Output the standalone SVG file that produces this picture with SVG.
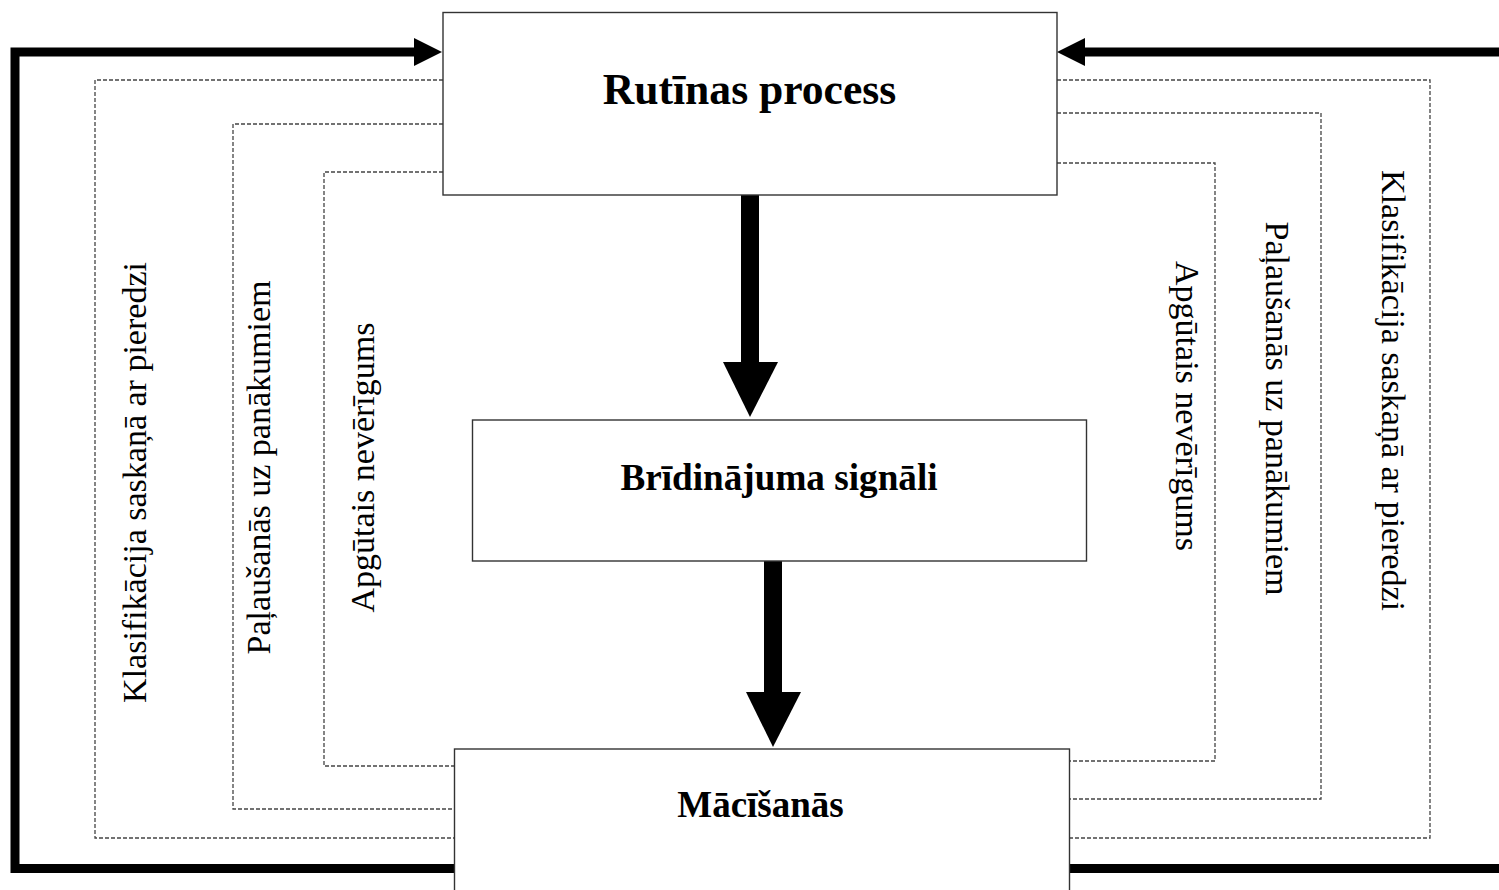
<svg xmlns="http://www.w3.org/2000/svg" width="1499" height="890" viewBox="0 0 1499 890">
  <style>
    .box { fill: #ffffff; stroke: #333333; stroke-width: 1.4; }
    .dash { fill: none; stroke: #444444; stroke-width: 1.3; stroke-dasharray: 4 2; }
    .thick { fill: none; stroke: #000000; stroke-width: 9; stroke-linejoin: miter; }
    .head { fill: #000000; }
    .title { font-family: "Liberation Serif", "Times New Roman", serif; font-weight: bold; text-anchor: middle; fill: #000000; }
    .side { font-family: "Liberation Serif", "Times New Roman", serif; font-size: 34px; text-anchor: middle; fill: #000000; }
  </style>
  <rect width="1499" height="890" fill="#ffffff"/>

  <!-- dashed frames around the flow, with their labels -->
  <g id="frames">
    <path class="dash" d="M443 80 H95 V838 H454 M1057 80 H1430 V838 H1069"/>
    <path class="dash" d="M443 124 H233 V809 H454 M1057 113 H1321 V799 H1069"/>
    <path class="dash" d="M443 172 H324 V766 H454 M1057 163 H1215 V761 H1069"/>
  </g>
  <g id="labels-left">
    <text class="side" transform="translate(146,482.5) rotate(-90)">Klasifikācija saskaņā ar pieredzi</text>
    <text class="side" transform="translate(270,467.5) rotate(-90)">Paļaušanās uz panākumiem</text>
    <text class="side" transform="translate(374,467.5) rotate(-90)">Apgūtais nevērīgums</text>
  </g>
  <g id="labels-right">
    <text class="side" transform="translate(1176,406) rotate(90)">Apgūtais nevērīgums</text>
    <text class="side" transform="translate(1266,408.5) rotate(90)">Paļaušanās uz panākumiem</text>
    <text class="side" transform="translate(1382,390.5) rotate(90)">Klasifikācija saskaņā ar pieredzi</text>
  </g>

  <!-- connectors -->
  <g id="connectors">
    <path class="thick" d="M416 52 H15 V868.5 H455"/>
    <polygon class="head" points="414,38 442,52 414,66"/>
    <path class="thick" d="M1499 52 H1083"/>
    <polygon class="head" points="1085,38 1057,52 1085,66"/>
    <path class="thick" d="M1069 868.5 H1499"/>
    <rect class="head" x="741" y="195" width="18" height="168"/>
    <polygon class="head" points="723,362 778,362 750,417"/>
    <rect class="head" x="764" y="561" width="18" height="132"/>
    <polygon class="head" points="746,692 801,692 773,747"/>
  </g>

  <!-- nodes -->
  <g id="node-rutinas">
    <rect class="box" x="443" y="12.5" width="614" height="182.5"/>
    <text class="title" x="749.5" y="104" font-size="43.6">Rutīnas process</text>
  </g>
  <g id="node-bridinajuma">
    <rect class="box" x="472.5" y="420" width="614" height="141"/>
    <text class="title" x="779" y="490" font-size="37.2">Brīdinājuma signāli</text>
  </g>
  <g id="node-macisanas">
    <rect class="box" x="454.5" y="749" width="615" height="160"/>
    <text class="title" x="760.5" y="817" font-size="37">Mācīšanās</text>
  </g>
</svg>
